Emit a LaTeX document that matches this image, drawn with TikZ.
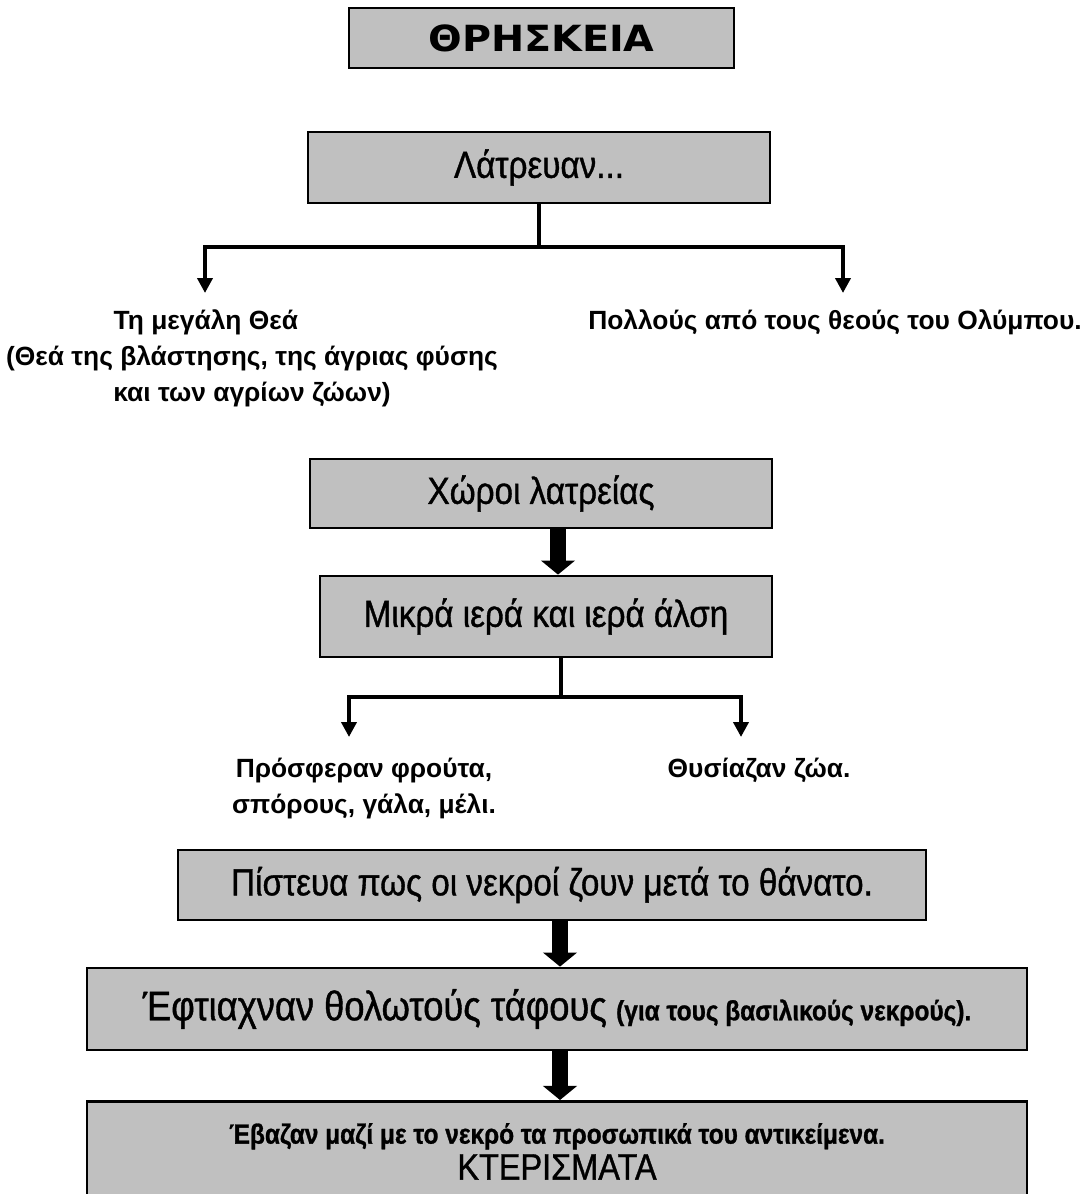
\documentclass[tikz,border=0pt]{standalone}
\usepackage{fontspec}
\setmainfont{Liberation Sans}
\newfontfamily\narrowfont[FakeStretch=0.88,FakeBold=1.0]{Liberation Sans}
\newfontfamily\labelfont{Liberation Sans}
\newfontfamily\titlefont[FakeStretch=1.1]{DejaVu Sans}
\usetikzlibrary{arrows.meta}
\definecolor{boxgray}{HTML}{C0C0C0}

\begin{document}
\begin{tikzpicture}[
  x=0.02cm, y=-0.02cm,
  gbox/.style={draw, line width=1.6pt, fill=boxgray, inner sep=0pt, align=center,
    font=\narrowfont\fontsize{21.5}{25}\selectfont},
  lbl/.style={align=center, inner sep=0pt, font=\labelfont\bfseries\fontsize{15}{20.5}\selectfont},
  arr/.style={line width=2.3pt, -{Triangle[width=8.5pt,length=8.5pt]}},
  bigarr/.style={line width=9pt, -{Triangle[width=19pt,length=8pt]}}
]
\useasboundingbox (0,0) rectangle (1091,1194);
\node[gbox, minimum width=7.7cm, minimum height=1.2cm,
  font=\titlefont\bfseries\fontsize{20.5}{22}\selectfont] (title) at (541.5,38) {ΘΡΗΣΚΕΙΑ};

\node[gbox, minimum width=9.24cm, minimum height=1.42cm] (latr) at (539,167.5) {Λάτρευαν...};
\coordinate (j1) at (latr.south |- 0,247);
\coordinate (t1) at (205,293);
\coordinate (t2) at (843,293);
\node[lbl, anchor=north] (thea) at (252,309)
  {Τη μεγάλη Θεά\hspace*{3.5em}\\(Θεά της βλάστησης, της άγριας φύσης\\και των αγρίων ζώων)};
\node[lbl, anchor=north] (olymp) at (835,309) {Πολλούς από τους θεούς του Ολύμπου.};
\draw[line width=2.3pt] (latr.south) -- (j1);
\draw[arr] (j1) -| (t1);
\draw[arr] (j1) -| (t2);

\node[gbox, minimum width=9.24cm, minimum height=1.38cm] (chor) at (541,493.5) {Χώροι λατρείας};
\node[gbox, minimum width=9.04cm, minimum height=1.62cm] (mikra) at (546,616.5) {Μικρά ιερά και ιερά άλση};
\draw[bigarr] (chor.south -| 558,0) -- (mikra.north -| 558,0);

\coordinate (j2) at (561,697);
\coordinate (t3) at (349,737);
\coordinate (t4) at (741,737);
\node[lbl, anchor=north] (prosf) at (364,758) {Πρόσφεραν φρούτα,\\σπόρους, γάλα, μέλι.};
\node[lbl, anchor=north] (thys) at (759,758) {Θυσίαζαν ζώα.};
\draw[line width=2.3pt] (mikra.south -| j2) -- (j2);
\draw[arr] (j2) -| (t3);
\draw[arr] (j2) -| (t4);

\node[gbox, minimum width=14.96cm, minimum height=1.4cm] (pist) at (552,885)
  {Πίστευα πως οι νεκροί ζουν μετά το θάνατο.};
\node[gbox, minimum width=18.8cm, minimum height=1.64cm] (eft) at (557,1009)
  {{\fontsize{23.5}{25}\selectfont Έφτιαχναν θολωτούς τάφους} {\bfseries\fontsize{15.8}{20}\selectfont(για τους βασιλικούς νεκρούς).}};
\node[gbox, minimum width=18.8cm, minimum height=2cm, anchor=north,
  font=\narrowfont\fontsize{21}{20.5}\selectfont] (evaz) at (557,1100)
  {{\bfseries\fontsize{15.8}{20.5}\selectfont Έβαζαν μαζί με το νεκρό τα προσωπικά του αντικείμενα.}\\ΚΤΕΡΙΣΜΑΤΑ};
\draw[bigarr] (pist.south -| 560,0) -- (eft.north -| 560,0);
\draw[bigarr] (eft.south -| 560,0) -- (evaz.north -| 560,0);
\end{tikzpicture}
\end{document}
